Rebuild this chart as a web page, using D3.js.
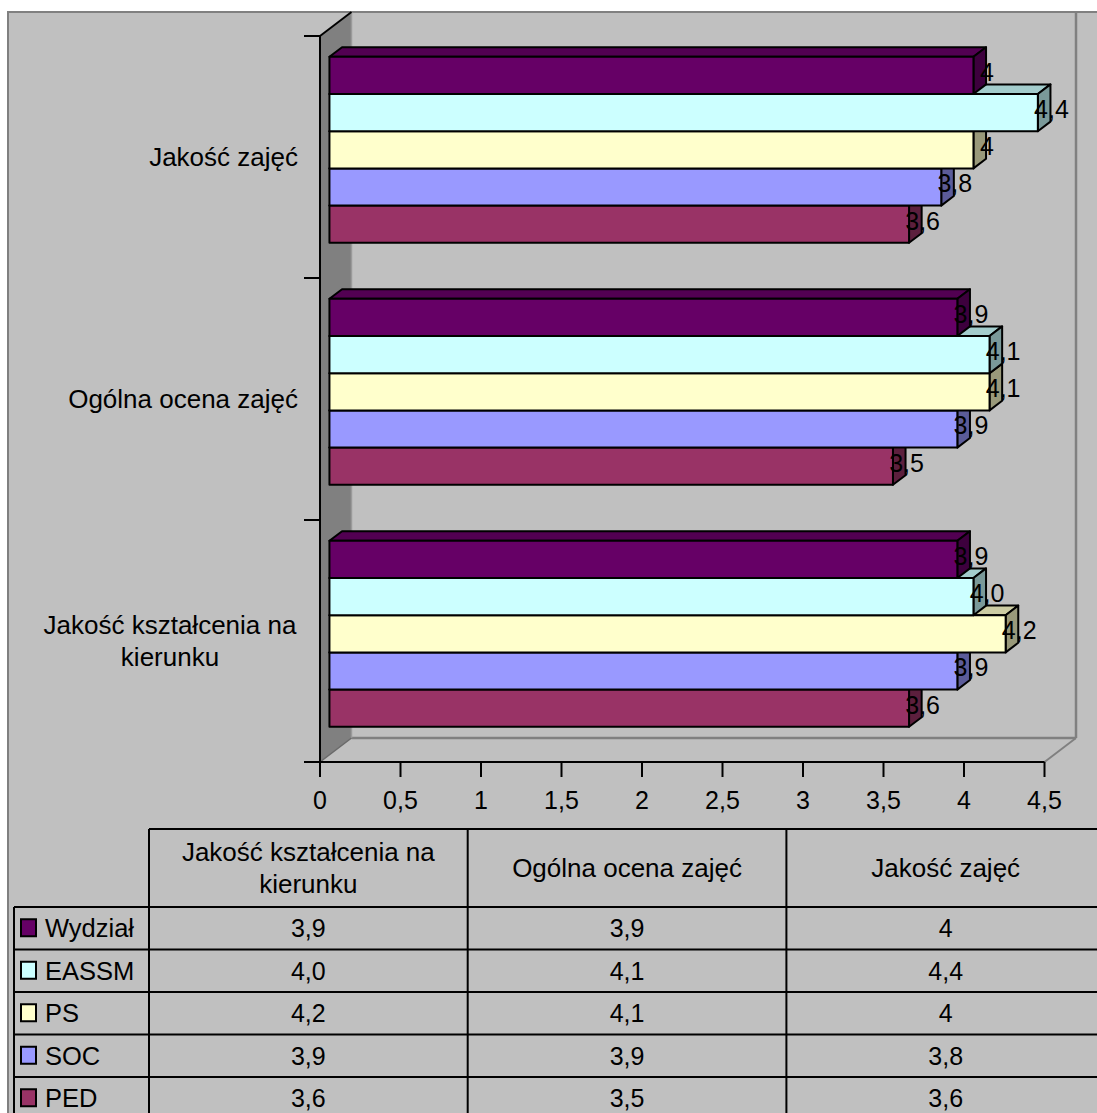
<!DOCTYPE html>
<html>
<head>
<meta charset="utf-8">
<script src="https://cdn.jsdelivr.net/npm/d3@7"></script>
<style>
  html, body { margin: 0; padding: 0; background: #ffffff; }
  svg { display: block; }
  text { font-family: "Liberation Sans", Arial, sans-serif; fill: #000; }
</style>
</head>
<body>
<svg id="chart" width="1097" height="1113"></svg>
<script>
// ---- data ----
const categories = ["Jakość kształcenia na kierunku", "Ogólna ocena zajęć", "Jakość zajęć"];
const series = ["Wydział", "EASSM", "PS", "SOC", "PED"];
const seriesColors = ["#660066", "#CCFFFF", "#FFFFCC", "#9999FF", "#993366"];
const valWydzial = [3.9, 3.9, 4.0];
const valEASSM   = [4.0, 4.1, 4.4];
const valPS      = [4.2, 4.1, 4.0];
const valSOC     = [3.9, 3.9, 3.8];
const valPED     = [3.6, 3.5, 3.6];
const lblWydzial = ["3,9", "3,9", "4"];
const lblEASSM   = ["4,0", "4,1", "4,4"];
const lblPS      = ["4,2", "4,1", "4"];
const lblSOC     = ["3,9", "3,9", "3,8"];
const lblPED     = ["3,6", "3,5", "3,6"];
const xTicks = [0, 0.5, 1, 1.5, 2, 2.5, 3, 3.5, 4, 4.5];
const xTickLabels = ["0", "0,5", "1", "1,5", "2", "2,5", "3", "3,5", "4", "4,5"];

const values = [valWydzial, valEASSM, valPS, valSOC, valPED];
const labels = [lblWydzial, lblEASSM, lblPS, lblSOC, lblPED];

// ---- layout ----
const FS = 25, FSC = 26;
const svg = d3.select("#chart");
const DX = 31.5, DY = -24;           // depth of plot box
const bF = 0.3, bB = 0.7;            // bar depth fraction (front, back)
const x = d3.scaleLinear().domain([0, 4.5]).range([320, 1044.5]);
const yTop = 36, yBot = 762;
const y0 = d3.scaleBand().domain(categories.slice().reverse()).range([yTop, yBot]).padding(0);
const y1 = d3.scaleBand().domain(series).range([0, y0.bandwidth()]).paddingInner(0).paddingOuter(0.753);

// chart area background
svg.append("rect").attr("x", 8).attr("y", 12).attr("width", 1200).attr("height", 1200)
  .attr("fill", "#C0C0C0").attr("stroke", "#808080").attr("stroke-width", 2);

// back wall edges & floor
const gray = "#808080";
svg.append("line").attr("x1", x(4.5) + DX).attr("x2", x(4.5) + DX).attr("y1", yTop + DY).attr("y2", yBot + DY)
  .attr("stroke", gray).attr("stroke-width", 2.5);
svg.append("line").attr("x1", x(0) + DX).attr("x2", x(4.5) + DX).attr("y1", yBot + DY).attr("y2", yBot + DY)
  .attr("stroke", gray).attr("stroke-width", 2.5);
svg.append("line").attr("x1", x(4.5) + DX).attr("x2", x(4.5)).attr("y1", yBot + DY).attr("y2", yBot)
  .attr("stroke", gray).attr("stroke-width", 2);
svg.append("line").attr("x1", x(0) + DX).attr("x2", x(4.5) + DX).attr("y1", yTop + DY).attr("y2", yTop + DY)
  .attr("stroke", gray).attr("stroke-width", 2);

// left wall
svg.append("polygon")
  .attr("points", [[x(0), yTop], [x(0) + DX, yTop + DY], [x(0) + DX, yBot + DY], [x(0), yBot]].map(p => p.join(",")).join(" "))
  .attr("fill", "#808080");
svg.append("line").attr("x1", x(0) + DX).attr("x2", x(0) + DX).attr("y1", yTop + DY).attr("y2", yBot + DY)
  .attr("stroke", "#9a9a9a").attr("stroke-width", 1.5);
svg.append("line").attr("x1", x(0)).attr("x2", x(0) + DX).attr("y1", yBot).attr("y2", yBot + DY)
  .attr("stroke", "#6a6a6a").attr("stroke-width", 1.5);
svg.append("line").attr("x1", x(0)).attr("x2", x(0) + DX).attr("y1", yTop).attr("y2", yTop + DY)
  .attr("stroke", "#000").attr("stroke-width", 2);

// axes
const axisG = svg.append("g");
axisG.append("line").attr("x1", x(0)).attr("x2", x(0)).attr("y1", yTop).attr("y2", yBot).attr("stroke", "#000").attr("stroke-width", 2);
axisG.append("line").attr("x1", 304).attr("x2", x(4.5)).attr("y1", yBot).attr("y2", yBot).attr("stroke", "#000").attr("stroke-width", 2);
// category ticks
const catTickYs = y0.domain().map(c => y0(c)).concat([yBot]);
axisG.selectAll("line.ct").data(catTickYs).enter().append("line")
  .attr("x1", 304).attr("x2", x(0)).attr("y1", d => d).attr("y2", d => d)
  .attr("stroke", "#000").attr("stroke-width", 2);
// value ticks
axisG.selectAll("line.vt").data(xTicks).enter().append("line")
  .attr("x1", d => x(d)).attr("x2", d => x(d)).attr("y1", yBot).attr("y2", yBot + 15)
  .attr("stroke", "#000").attr("stroke-width", 2);
axisG.selectAll("text.vt").data(xTicks).enter().append("text")
  .attr("x", d => x(d)).attr("y", 809).attr("text-anchor", "middle").attr("font-size", FS)
  .text((d, i) => xTickLabels[i]);

// category labels
const catLines = {
  "Jakość kształcenia na kierunku": ["Jakość kształcenia na", "kierunku"],
  "Ogólna ocena zajęć": ["Ogólna ocena zajęć"],
  "Jakość zajęć": ["Jakość zajęć"]
};
categories.forEach(c => {
  const lines = catLines[c];
  const cy = y0(c) + y0.bandwidth() / 2;
  const t = svg.append("text").attr("font-size", FSC).attr("text-anchor", "middle");
  if (lines.length === 1) {
    t.attr("text-anchor", "end").attr("x", 298).attr("y", cy + 9).text(lines[0]);
  } else {
    const lh = 32;
    lines.forEach((ln, k) => {
      t.append("tspan").attr("x", 170).attr("y", cy + 9 + (k - (lines.length - 1) / 2) * lh).text(ln);
    });
  }
});

// bars
const fdx = DX * bF, fdy = DY * bF;
const bdx = DX * (bB - bF), bdy = DY * (bB - bF);
function shade(col, k) { const c = d3.rgb(col); return d3.rgb(c.r * k, c.g * k, c.b * k).toString(); }
const barsG = svg.append("g");
const pts = a => a.map(p => p.join(",")).join(" ");
// draw from bottom series up so upper bars overlap lower ones
for (let ci = 0; ci < categories.length; ci++) {
  const c = categories[ci];
  for (let si = series.length - 1; si >= 0; si--) {
    const v = values[si][ci];
    const col = seriesColors[si];
    const xl = x(0) + fdx, xr = x(v) + fdx;
    const yt = y0(c) + y1(series[si]) + fdy, yb = yt + y1.bandwidth();
    const g = barsG.append("g").attr("stroke", "#000").attr("stroke-width", 2).attr("stroke-linejoin", "round");
    g.append("polygon").attr("points", pts([[xl, yt], [xl + bdx, yt + bdy], [xr + bdx, yt + bdy], [xr, yt]])).attr("fill", shade(col, 0.8));
    g.append("polygon").attr("points", pts([[xr, yt], [xr + bdx, yt + bdy], [xr + bdx, yb + bdy], [xr, yb]])).attr("fill", shade(col, 0.6));
    g.append("rect").attr("x", xl).attr("y", yt).attr("width", xr - xl).attr("height", yb - yt).attr("fill", col);
  }
}
// value labels
const lblG = svg.append("g");
for (let ci = 0; ci < categories.length; ci++) {
  const c = categories[ci];
  for (let si = 0; si < series.length; si++) {
    const v = values[si][ci];
    const yt = y0(c) + y1(series[si]) + fdy;
    const cy = yt + y1.bandwidth() / 2 - 3;
    lblG.append("text").attr("x", x(v) + fdx + bdx + 1).attr("y", cy + 8.5)
      .attr("text-anchor", "middle").attr("font-size", FS).text(labels[si][ci]);
  }
}

// data table
const tbl = svg.append("g");
const colX = [149, 467.7, 786.4, 1105];
const legX = 14;
const headTop = 829, headBot = 907, rowH = 42.5;
const rowYs = series.map((s, i) => headBot + i * rowH);
const lineAttr = sel => sel.attr("stroke", "#000").attr("stroke-width", 2);
// horizontal lines
lineAttr(tbl.append("line").attr("x1", colX[0]).attr("x2", 1097).attr("y1", headTop).attr("y2", headTop));
rowYs.concat([headBot + series.length * rowH]).forEach(yy => {
  lineAttr(tbl.append("line").attr("x1", legX).attr("x2", 1097).attr("y1", yy).attr("y2", yy));
});
// vertical lines
lineAttr(tbl.append("line").attr("x1", legX).attr("x2", legX).attr("y1", headBot).attr("y2", 1113));
colX.forEach(cx => lineAttr(tbl.append("line").attr("x1", cx).attr("x2", cx).attr("y1", headTop).attr("y2", 1113)));
// header texts
const headLines = [["Jakość kształcenia na", "kierunku"], ["Ogólna ocena zajęć"], ["Jakość zajęć"]];
categories.forEach((c, i) => {
  const cx = (colX[i] + colX[i + 1]) / 2;
  const cy = (headTop + headBot) / 2;
  const lines = headLines[i];
  const t = tbl.append("text").attr("font-size", FSC).attr("text-anchor", "middle");
  lines.forEach((ln, k) => {
    t.append("tspan").attr("x", cx).attr("y", cy + 9 + (k - (lines.length - 1) / 2) * 32).text(ln);
  });
});
// rows
series.forEach((s, si) => {
  const ry = rowYs[si];
  const cy = ry + rowH / 2;
  tbl.append("rect").attr("x", 21).attr("y", cy - 9).attr("width", 15).attr("height", 17)
    .attr("fill", seriesColors[si]).attr("stroke", "#000").attr("stroke-width", 2);
  tbl.append("text").attr("x", 45).attr("y", cy + 9).attr("font-size", 25.5).text(s);
  categories.forEach((c, ci) => {
    tbl.append("text").attr("x", (colX[ci] + colX[ci + 1]) / 2).attr("y", cy + 9)
      .attr("text-anchor", "middle").attr("font-size", FS).text(labels[si][ci]);
  });
});
</script>
</body>
</html>
